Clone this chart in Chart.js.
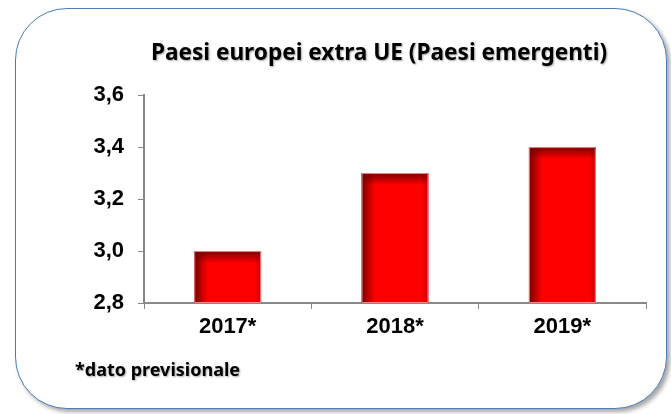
<!DOCTYPE html>
<html>
<head>
<meta charset="utf-8">
<script src="https://cdn.jsdelivr.net/npm/chart.js@4.4.1/dist/chart.umd.min.js"></script>
<style>
  html, body { margin: 0; padding: 0; background: #ffffff; }
  #wrap { position: relative; width: 671px; height: 414px; overflow: hidden; }
  #frame {
    position: absolute; left: 15px; top: 8px; width: 650px; height: 399px;
    border: 1.5px solid #4a7ebb; border-radius: 52px;
    box-shadow: 3px 3px 4px rgba(0,0,0,0.35);
    background: #ffffff;
  }
  #c { position: absolute; left: 0; top: 0; }
  #note {
    position: absolute; left: 75px; top: 357px;
    font-family: 'Noto Sans', sans-serif;
    font-weight: bold; font-size: 18px; color: #000;
    text-shadow: 1px 1px 2px rgba(0,0,0,0.35);
  }
</style>
</head>
<body>
<div id="wrap">
  <div id="frame"></div>
  <canvas id="c" width="671" height="414"></canvas>
  <div id="note">*dato previsionale</div>
</div>
<script>
const categories = ['2017*', '2018*', '2019*'];
const values = [3.0, 3.3, 3.4];
const yTickLabels = ['2,8', '3,0', '3,2', '3,4', '3,6'];
const titleText = 'Paesi europei extra UE (Paesi emergenti)';

const titleShift = {
  id: 'titleShift',
  afterLayout(chart) {
    const tb = chart.titleBlock;
    if (!tb) return;
    tb.left = 112;
    tb.right = chart.chartArea.right;
    tb.width = tb.right - tb.left;
    if (!tb._shadowWrapped) {
      const orig = tb.draw.bind(tb);
      tb.draw = function () {
        const ctx = this.ctx;
        ctx.save();
        ctx.shadowColor = 'rgba(0,0,0,0.35)';
        ctx.shadowOffsetX = 1;
        ctx.shadowOffsetY = 1;
        ctx.shadowBlur = 2;
        orig();
        ctx.restore();
      };
      tb._shadowWrapped = true;
    }
  }
};

const barShade = {
  id: 'barShade',
  afterDatasetsDraw(chart) {
    const ctx = chart.ctx;
    const ys = chart.scales.y;
    const bottom = ys.getPixelForValue(ys.min);
    const meta = chart.getDatasetMeta(0);
    meta.data.forEach(el => {
      const l = el.x - el.width / 2, r = el.x + el.width / 2;
      const t = el.y, b = bottom;
      ctx.save();
      ctx.beginPath();
      ctx.rect(l, t, r - l, b - t);
      ctx.clip();
      const gh = ctx.createLinearGradient(l, 0, r, 0);
      gh.addColorStop(0, 'rgba(110,0,0,0.95)');
      gh.addColorStop(0.2, 'rgba(110,0,0,0)');
      gh.addColorStop(0.9, 'rgba(110,0,0,0)');
      gh.addColorStop(1, 'rgba(110,0,0,0.35)');
      ctx.fillStyle = gh;
      ctx.fillRect(l, t, r - l, b - t);
      const gv = ctx.createLinearGradient(0, t, 0, t + 12);
      gv.addColorStop(0, 'rgba(110,0,0,0.9)');
      gv.addColorStop(1, 'rgba(110,0,0,0)');
      ctx.fillStyle = gv;
      ctx.fillRect(l, t, r - l, 12);
      ctx.strokeStyle = 'rgba(255,170,170,0.8)';
      ctx.lineWidth = 1;
      ctx.strokeRect(l + 0.5, t + 0.5, r - l - 1, b - t - 1);
      ctx.restore();
    });
  }
};

new Chart(document.getElementById('c'), {
  type: 'bar',
  data: {
    labels: categories,
    datasets: [{
      data: values,
      backgroundColor: '#ff0000',
      borderWidth: 0,
      barPercentage: 0.4,
      categoryPercentage: 1.0
    }]
  },
  options: {
    responsive: false,
    animation: false,
    events: [],
    layout: { padding: { left: 0, right: 25, top: 0, bottom: 61 } },
    plugins: {
      legend: { display: false },
      tooltip: { enabled: false },
      title: {
        display: true,
        text: titleText,
        color: '#000',
        font: { family: "'Noto Sans', sans-serif", weight: 'bold', size: 22.6, lineHeight: 1.2 },
        padding: { top: 40, bottom: 28 }
      }
    },
    scales: {
      x: {
        afterFit(s) { s.height = 50; },
        grid: { drawOnChartArea: false, drawTicks: true, tickLength: 6, color: '#888888', offset: true },
        border: { color: '#888888', width: 2 },
        ticks: { color: '#000', padding: 5, font: { family: "'Liberation Sans', Arial, sans-serif", weight: 'bold', size: 22 } }
      },
      y: {
        min: 2.8, max: 3.6,
        afterFit(s) { s.width = 144; },
        grid: { drawOnChartArea: false, drawTicks: true, tickLength: 6, color: '#888888' },
        border: { color: '#888888', width: 2 },
        ticks: {
          stepSize: 0.2,
          color: '#000',
          padding: 14,
          font: { family: "'Liberation Sans', Arial, sans-serif", weight: 'bold', size: 22 },
          callback: (v, i) => yTickLabels[i]
        }
      }
    }
  },
  plugins: [titleShift, barShade]
});
</script>
</body>
</html>
